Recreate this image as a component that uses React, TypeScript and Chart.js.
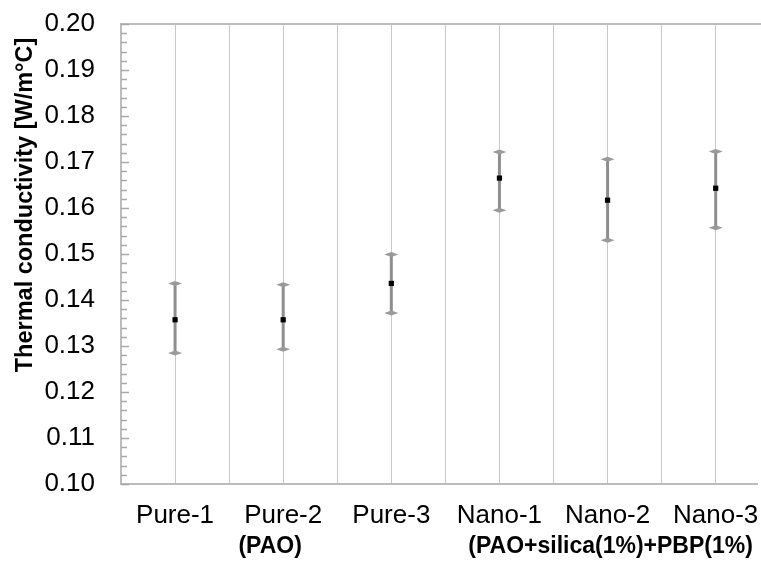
import React, { useEffect, useRef } from "react";
import { Chart, registerables } from "chart.js";

Chart.register(...registerables);

const categories = ["Pure-1", "Pure-2", "Pure-3", "Nano-1", "Nano-2", "Nano-3"];
const meanValues = [0.1357, 0.1357, 0.1436, 0.1665, 0.1617, 0.1643];
const upperValues = [0.1436, 0.1433, 0.1499, 0.1722, 0.1706, 0.1723];
const lowerValues = [0.1285, 0.1293, 0.1372, 0.1595, 0.153, 0.1557];
const groupLabels = ["(PAO)", "(PAO+silica(1%)+PBP(1%)"];
const groupCenters = [2, 5];
const yTitle = "Thermal conductivity [W/m°C]";
const yMin = 0.1;
const yMax = 0.2;
const yStep = 0.01;

const FONT = "'Liberation Sans', Arial, sans-serif";

const customPlugin = {
  id: "custom",
  beforeDatasetsDraw(chart: any) {
    const { ctx, chartArea, scales } = chart;
    const xs = scales.x;
    const ys = scales.y;
    ctx.save();
    ctx.strokeStyle = "#bdbdbd";
    ctx.lineWidth = 2;
    ctx.beginPath();
    ctx.moveTo(chartArea.left, chartArea.top);
    ctx.lineTo(chartArea.right + 10, chartArea.top);
    ctx.stroke();
    ctx.strokeStyle = "#a8a8a8";
    ctx.lineWidth = 1.5;
    for (let k = 0; k <= 50; k++) {
      const v = yMin + k * 0.002;
      const y = Math.round(ys.getPixelForValue(v)) + 0.5;
      const len = k % 5 === 0 ? 8 : 6;
      ctx.beginPath();
      ctx.moveTo(chartArea.left, y);
      ctx.lineTo(chartArea.left + len, y);
      ctx.stroke();
    }
    for (let i = 0; i < categories.length; i++) {
      const x = xs.getPixelForValue(i + 1);
      const yt = ys.getPixelForValue(upperValues[i]);
      const yb = ys.getPixelForValue(lowerValues[i]);
      ctx.strokeStyle = "#8e8e8e";
      ctx.lineWidth = 3;
      ctx.beginPath();
      ctx.moveTo(x, yt);
      ctx.lineTo(x, yb);
      ctx.stroke();
      ctx.fillStyle = "#9a9a9a";
      for (const y of [yt, yb]) {
        ctx.beginPath();
        ctx.moveTo(x - 7, y);
        ctx.lineTo(x, y - 2.5);
        ctx.lineTo(x + 7, y);
        ctx.lineTo(x, y + 2.5);
        ctx.closePath();
        ctx.fill();
      }
    }
    ctx.restore();
  },
  afterDraw(chart: any) {
    const { ctx, scales } = chart;
    const xs = scales.x;
    ctx.save();
    ctx.fillStyle = "#000";
    ctx.textAlign = "center";
    ctx.textBaseline = "middle";
    ctx.font = `bold 23px ${FONT}`;
    const offsets = [-13, 3];
    groupLabels.forEach((g, i) => {
      ctx.fillText(g, xs.getPixelForValue(groupCenters[i]) + offsets[i], 547);
    });
    ctx.translate(26, 205);
    ctx.rotate(-Math.PI / 2);
    ctx.font = `bold 23.5px ${FONT}`;
    ctx.fillText(yTitle, 0, 0);
    ctx.restore();
  },
};

export default function App() {
  const ref = useRef<HTMLCanvasElement>(null);
  useEffect(() => {
    if (!ref.current) return;
    const chart = new Chart(ref.current, {
      type: "scatter",
      data: {
        datasets: [
          {
            data: meanValues.map((v, i) => ({ x: i + 1, y: v })),
            backgroundColor: "#000",
            borderColor: "#000",
            pointStyle: "rect",
            pointRadius: 3.7,
            borderWidth: 0,
          },
        ],
      },
      options: {
        animation: false,
        responsive: false,
        layout: { padding: { top: 24, left: 0, right: 0, bottom: 0 } },
        plugins: { legend: { display: false }, tooltip: { enabled: false } },
        scales: {
          x: {
            type: "linear",
            min: 0.5,
            max: 6.382,
            afterFit: (s: any) => {
              s.height = 78;
              s.paddingLeft = 0;
              s.paddingRight = 0;
            },
            ticks: {
              stepSize: 0.5,
              autoSkip: false,
              maxRotation: 0,
              includeBounds: false,
              padding: 16,
              color: "#000",
              font: { family: FONT, size: 26 },
              callback: (v: any) => {
                const n = Number(v);
                return Number.isInteger(n) && n >= 1 && n <= categories.length ? categories[n - 1] : "";
              },
            },
            grid: {
              color: (c: any) => {
                const v = c.tick ? c.tick.value : 0;
                return Math.abs(v * 2 - Math.round(v * 2)) < 1e-6 ? "#c8c8c8" : "rgba(0,0,0,0)";
              },
              lineWidth: 1,
              drawTicks: false,
            },
            border: { color: "#bdbdbd", width: 2 },
          },
          y: {
            min: yMin,
            max: yMax,
            afterFit: (s: any) => {
              s.width = 121;
              s.paddingTop = 0;
              s.paddingBottom = 0;
            },
            ticks: {
              stepSize: yStep,
              padding: 26,
              color: "#000",
              font: { family: FONT, size: 26 },
              callback: (v: any) => Number(v).toFixed(2),
            },
            grid: { display: true, drawOnChartArea: false, drawTicks: false },
            border: { color: "#bdbdbd", width: 2 },
          },
        },
      },
      plugins: [customPlugin],
    });
    return () => chart.destroy();
  }, []);
  return (
    <div style={{ position: "absolute", left: 0, top: 0, width: 761, height: 562, background: "#fff" }}>
      <canvas ref={ref} width={761} height={562} />
    </div>
  );
}
